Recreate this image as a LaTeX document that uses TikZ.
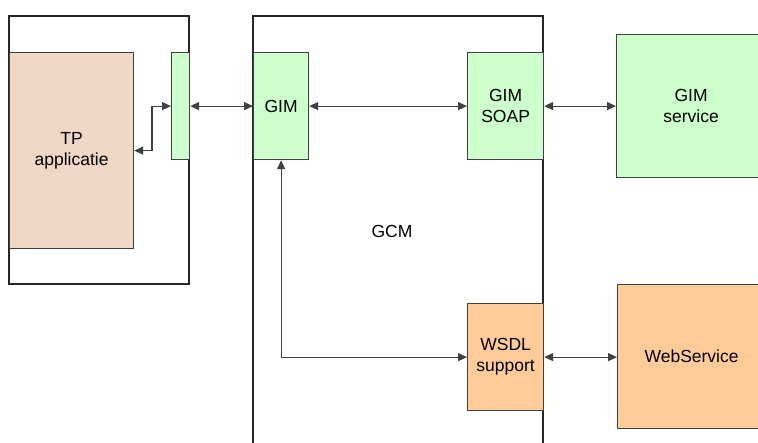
\documentclass[tikz,border=0pt]{standalone}
\usepackage{fontspec}
\setmainfont{Liberation Sans}
\usepackage{tikz}
\usetikzlibrary{arrows.meta,positioning,calc}
\usepackage{xcolor}
\definecolor{gimgreen}{RGB}{204,255,204}
\definecolor{tppeach}{RGB}{240,215,198}
\definecolor{wsorange}{RGB}{255,204,153}
\definecolor{lineGray}{RGB}{64,64,64}
\tikzset{
  gbox/.style={draw=lineGray,line width=1.2pt,inner sep=0pt,align=center,
               anchor=north west,font=\fontsize{17.5pt}{21pt}\selectfont},
  gimbox/.style={gbox,fill=gimgreen},
  tpbox/.style={gbox,fill=tppeach},
  wsbox/.style={gbox,fill=wsorange},
  frame/.style={draw=black!85,line width=1.2pt},
  biarrow/.style={{Triangle[length=9pt,width=8pt]}-{Triangle[length=9pt,width=8pt]},lineGray,line width=1.2pt},
}

\begin{document}
\begin{tikzpicture}[x=1pt,y=-1pt]
    \useasboundingbox (0,0) rectangle (758,442);
    % containers
    \draw[frame] (9,16) rectangle (189,284);
    \draw[frame] (253,450) -- (253,16) -- (543,16) -- (543,450);
    \node[font=\fontsize{17.5pt}{21pt}\selectfont] (gcm) at (392,231) {GCM};
    % components
    \node[tpbox,minimum width=124pt,minimum height=196pt] (tp) at (9,52) {TP\\applicatie};
    \node[gimbox,minimum width=18pt,minimum height=107pt] (link) at (171,52) {};
    \node[gimbox,minimum width=55pt,minimum height=107pt] (gim) at (253,52) {GIM};
    \node[gimbox,minimum width=76pt,minimum height=107pt] (soap) at (467,52) {GIM\\SOAP};
    \node[gimbox,minimum width=149pt,minimum height=143pt] (service) at (616,34) {GIM\\service};
    \node[wsbox,minimum width=76pt,minimum height=107pt] (wsdl) at (467,303) {WSDL\\support};
    \node[wsbox,minimum width=148pt,minimum height=144pt] (websvc) at (617,284) {WebService};
    % connectors
    \draw[biarrow] (link.west) -- ++(-19,0) |- (tp.east);
    \draw[biarrow] (link.east) -- (gim.west);
    \draw[biarrow] (gim.east) -- (soap.west);
    \draw[biarrow] (soap.east) -- (soap.east -| service.west);
    \draw[biarrow] (gim.south) |- (wsdl.west);
    \draw[biarrow] (wsdl.east) -- (wsdl.east -| websvc.west);
\end{tikzpicture}
\end{document}
